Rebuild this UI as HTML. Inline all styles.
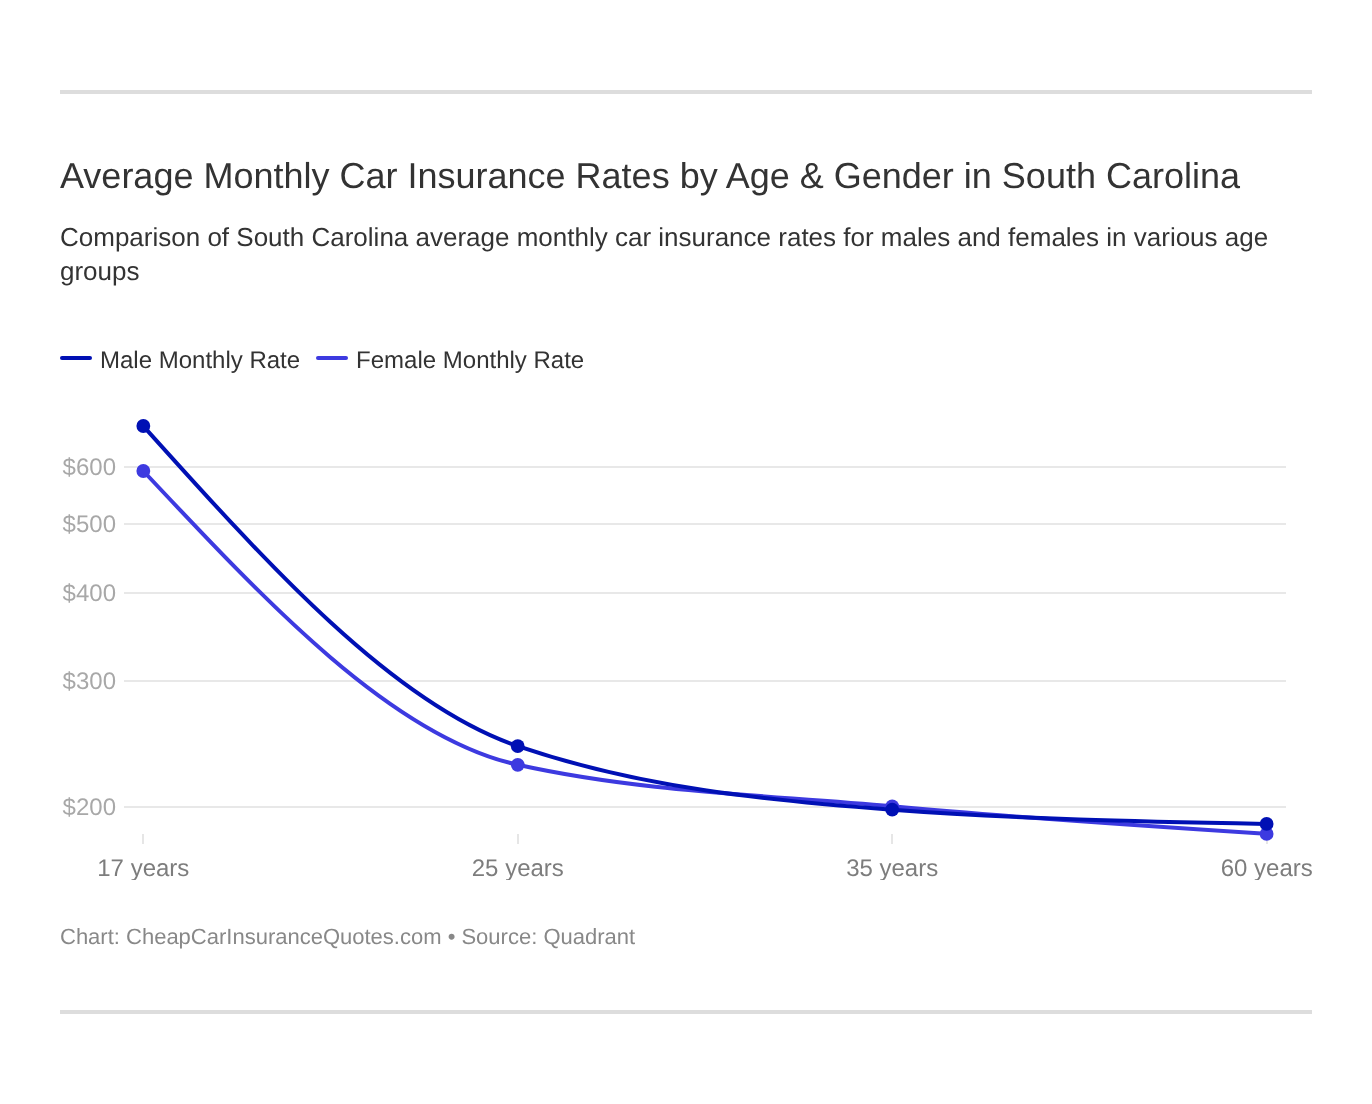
<!DOCTYPE html>
<html lang="en">
<head>
<meta charset="utf-8">
<title>Average Monthly Car Insurance Rates by Age &amp; Gender in South Carolina</title>
<style>
html,body{margin:0;padding:0;background:#fff;}
body{text-rendering:geometricPrecision;width:1372px;height:1104px;position:relative;overflow:hidden;font-family:"Liberation Sans",Arial,Helvetica,sans-serif;color:#333;}
.rule{position:absolute;left:60px;width:1252px;height:4px;background:#dddddd;}
#r1{top:90px;}
#r2{top:1010px;}
h1{position:absolute;left:60px;top:154px;margin:0;font-weight:400;font-size:36px;line-height:44px;color:#333;white-space:nowrap;}
p.desc{position:absolute;left:60px;top:220px;width:1252px;margin:0;font-size:26px;line-height:34px;color:#333;}
.legend{position:absolute;left:60px;top:345px;height:32px;font-size:24px;line-height:32px;color:#333;white-space:nowrap;}
.legend span.k{display:inline-block;width:32px;height:4px;vertical-align:top;margin:11px 8px 0 0;border-radius:2px;}
.legend span.t{display:inline-block;vertical-align:top;margin-right:16px;}
svg{position:absolute;left:0;top:0;}
.foot{position:absolute;left:60px;top:920.5px;font-size:22px;line-height:32px;color:#888;white-space:nowrap;}
</style>
</head>
<body>
<div class="rule" id="r1"></div>
<h1>Average Monthly Car Insurance Rates by Age &amp; Gender in South Carolina</h1>
<p class="desc">Comparison of South Carolina average monthly car insurance rates for males and females in various age groups</p>
<div class="legend"><span class="k" style="background:#0010b4"></span><span class="t">Male Monthly Rate</span><span class="k" style="background:#3d3ae0"></span><span class="t">Female Monthly Rate</span></div>
<svg text-rendering="geometricPrecision" width="1372" height="1104" viewBox="0 0 1372 1104">
<g stroke="#e8e8e8" stroke-width="2">
<line x1="124" x2="1286" y1="467" y2="467"/>
<line x1="124" x2="1286" y1="524" y2="524"/>
<line x1="124" x2="1286" y1="593" y2="593"/>
<line x1="124" x2="1286" y1="681" y2="681"/>
<line x1="124" x2="1286" y1="807" y2="807"/>
</g>
<g stroke="#e6e6e6" stroke-width="2">
<line x1="143" x2="143" y1="834" y2="844"/>
<line x1="518" x2="518" y1="834" y2="844"/>
<line x1="892" x2="892" y1="834" y2="844"/>
<line x1="1267" x2="1267" y1="834" y2="844"/>
</g>
<g font-family="Liberation Sans, Arial, sans-serif" font-size="24" fill="#a8a8a8" text-anchor="end">
<text x="116" y="475">$600</text>
<text x="116" y="532">$500</text>
<text x="116" y="601">$400</text>
<text x="116" y="689">$300</text>
<text x="116" y="815">$200</text>
</g>
<clipPath id="xl"><rect x="0" y="850" width="1372" height="30"/></clipPath>
<g clip-path="url(#xl)" font-family="Liberation Sans, Arial, sans-serif" font-size="24" fill="#7d7d7d" text-anchor="middle">
<text x="143.3" y="876">17 years</text>
<text x="517.8" y="876">25 years</text>
<text x="892.2" y="876">35 years</text>
<text x="1312.8" y="876" text-anchor="end">60 years</text>
</g>
<path fill="none" stroke="#3d3ae0" stroke-width="4" d="M143.33,471.00C268.14,604.05,392.95,737.10,517.76,764.80C642.57,792.50,767.38,794.83,892.19,806.35C1017.00,817.87,1141.81,825.88,1266.62,833.90"/>
<g fill="#3d3ae0">
<circle cx="143.33" cy="471" r="6.9"/><circle cx="517.76" cy="764.8" r="6.9"/><circle cx="892.19" cy="806.35" r="6.9"/><circle cx="1266.62" cy="833.9" r="6.9"/>
</g>
<path fill="none" stroke="#0010b4" stroke-width="4" d="M143.33,426.00C268.14,564.93,392.95,703.87,517.76,746.20C642.57,788.53,767.38,800.23,892.19,809.70C1017.00,819.17,1141.81,821.53,1266.62,823.90"/>
<g fill="#0010b4">
<circle cx="143.33" cy="426" r="6.9"/><circle cx="517.76" cy="746.2" r="6.9"/><circle cx="892.19" cy="809.7" r="6.9"/><circle cx="1266.62" cy="823.9" r="6.9"/>
</g>
</svg>
<div class="foot">Chart: CheapCarInsuranceQuotes.com • Source: Quadrant</div>
<div class="rule" id="r2"></div>
</body>
</html>
